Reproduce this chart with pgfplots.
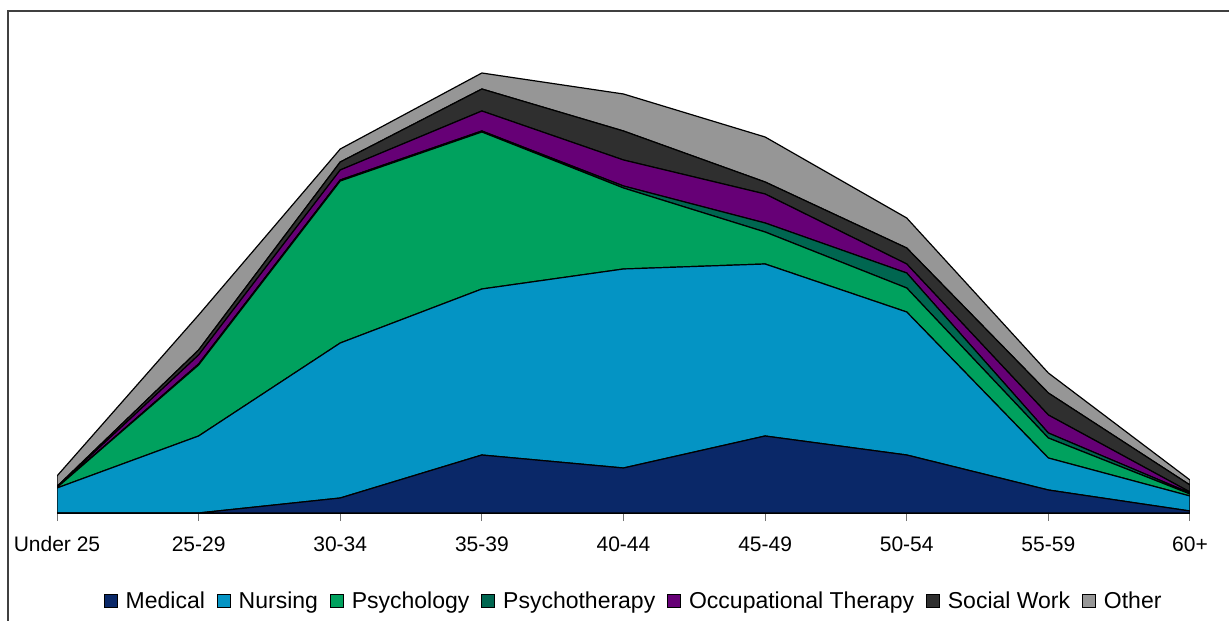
\documentclass[border=0pt]{standalone}
\usepackage{pgfplots}
\pgfplotsset{compat=1.18}
\usepackage{fontspec}
\setmainfont{Liberation Sans}
\definecolor{cMed}{RGB}{10,40,104}
\definecolor{cNur}{RGB}{4,148,196}
\definecolor{cPsy}{RGB}{0,161,94}
\definecolor{cPth}{RGB}{0,102,80}
\definecolor{cOT}{RGB}{102,0,118}
\definecolor{cSW}{RGB}{47,47,47}
\definecolor{cOth}{RGB}{150,150,150}
\begin{document}
\begin{tikzpicture}
\useasboundingbox (0,0) rectangle (1229bp,621bp);
\draw[line width=1.5bp, black!75] (8bp,-30bp) rectangle (1260bp,610bp);
\begin{axis}[
  at={(57bp,108bp)}, anchor=south west,
  scale only axis, width=1133bp, height=483bp,
  xmin=0, xmax=8, ymin=0, ymax=483,
  stack plots=y, area style,
  axis x line*=bottom, axis y line=none,
  axis line style={line width=1bp, black},
  xtick={0,...,8},
  xticklabels={Under 25,25-29,30-34,35-39,40-44,45-49,50-54,55-59,60+},
  xtick style={draw=black!55, line width=1bp},
  major tick length=8bp, tick align=outside,
  xticklabel style={font=\fontsize{21bp}{24bp}\selectfont, text=black, yshift=-12bp},
  every axis plot/.append style={draw=black, line width=1.2bp},
  legend columns=7,
  legend style={draw=none, fill=none, at={(0.509,-0.182)}, anchor=center,
    font=\fontsize{23bp}{26bp}\selectfont,
    /tikz/every odd column/.append style={column sep=6bp},
    /tikz/every even column/.append style={column sep=10bp}},
  legend image code/.code={\draw[#1, draw=black, line width=0.8bp] (0bp,-6.5bp) rectangle (13bp,6.5bp);},
]
\addplot[fill=cMed] coordinates {(0,0) (1,0) (2,15) (3,58) (4,45) (5,77) (6,58) (7,23) (8,2)} \closedcycle;
\addplot[fill=cNur] coordinates {(0,25) (1,77) (2,155) (3,166) (4,199) (5,172) (6,143) (7,32) (8,15)} \closedcycle;
\addplot[fill=cPsy] coordinates {(0,0.5) (1,71) (2,162) (3,157) (4,81) (5,32) (6,24) (7,20) (8,2)} \closedcycle;
\addplot[fill=cPth] coordinates {(0,0) (1,1) (2,1) (3,1) (4,2) (5,9) (6,15) (7,5) (8,1)} \closedcycle;
\addplot[fill=cOT] coordinates {(0,0.5) (1,9) (2,10) (3,20) (4,26) (5,29) (6,9) (7,18) (8,1)} \closedcycle;
\addplot[fill=cSW] coordinates {(0,0.5) (1,5) (2,8) (3,22) (4,29) (5,12) (6,16) (7,22) (8,7)} \closedcycle;
\addplot[fill=cOth] coordinates {(0,10.5) (1,35) (2,13) (3,16) (4,37) (5,45) (6,30) (7,20) (8,5)} \closedcycle;
\legend{Medical,Nursing,Psychology,Psychotherapy,Occupational Therapy,Social Work,Other}
\end{axis}
\end{tikzpicture}
\end{document}
